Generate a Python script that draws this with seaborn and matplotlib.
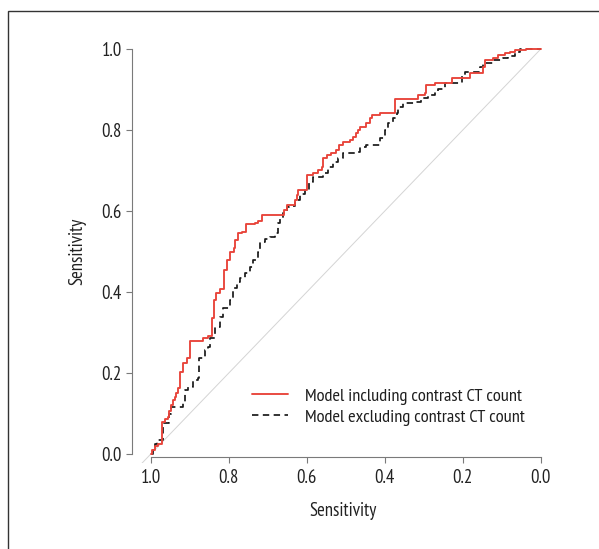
import pandas as pd
import seaborn as sns
import matplotlib.pyplot as plt
from matplotlib.patches import Rectangle

# ROC curve points (specificity on x, reversed axis; sensitivity on y)
spec_incl = [1.000, 0.996, 0.990, 0.981, 0.971, 0.964, 0.956, 0.954, 0.947, 0.943,
             0.938, 0.934, 0.930, 0.924, 0.917, 0.908, 0.900, 0.867, 0.853, 0.844,
             0.842, 0.838, 0.832, 0.823, 0.812, 0.804, 0.797, 0.787, 0.785, 0.776,
             0.765, 0.755, 0.733, 0.725, 0.716, 0.659, 0.652, 0.631, 0.626, 0.622,
             0.599, 0.584, 0.571, 0.562, 0.558, 0.549, 0.537, 0.524, 0.517, 0.507,
             0.490, 0.482, 0.474, 0.468, 0.464, 0.447, 0.438, 0.434, 0.413, 0.374,
             0.315, 0.297, 0.295, 0.272, 0.229, 0.182, 0.148, 0.144, 0.122, 0.109,
             0.092, 0.079, 0.067, 0.037, 0.000]
sens_incl = [0.000, 0.010, 0.020, 0.024, 0.080, 0.086, 0.091, 0.107, 0.121, 0.133,
             0.141, 0.150, 0.162, 0.203, 0.224, 0.236, 0.280, 0.286, 0.291, 0.314,
             0.335, 0.380, 0.397, 0.407, 0.454, 0.479, 0.500, 0.508, 0.528, 0.545,
             0.549, 0.568, 0.571, 0.576, 0.590, 0.602, 0.615, 0.627, 0.640, 0.652,
             0.689, 0.693, 0.701, 0.709, 0.730, 0.738, 0.744, 0.751, 0.763, 0.771,
             0.775, 0.783, 0.792, 0.800, 0.808, 0.817, 0.829, 0.837, 0.843, 0.877,
             0.886, 0.891, 0.911, 0.915, 0.928, 0.940, 0.956, 0.973, 0.977, 0.985,
             0.989, 0.993, 0.998, 1.000, 1.000]

spec_excl = [1.000, 0.995, 0.990, 0.985, 0.968, 0.953, 0.947, 0.917, 0.913, 0.904,
             0.892, 0.879, 0.876, 0.862, 0.853, 0.849, 0.836, 0.823, 0.815, 0.797,
             0.789, 0.780, 0.772, 0.759, 0.746, 0.738, 0.725, 0.721, 0.708, 0.695,
             0.682, 0.674, 0.669, 0.661, 0.652, 0.646, 0.631, 0.618, 0.605, 0.595,
             0.584, 0.558, 0.545, 0.533, 0.520, 0.507, 0.477, 0.464, 0.447, 0.413,
             0.400, 0.392, 0.379, 0.370, 0.366, 0.353, 0.323, 0.306, 0.289, 0.272,
             0.263, 0.246, 0.203, 0.195, 0.156, 0.148, 0.122, 0.097, 0.084, 0.067,
             0.054, 0.000]
sens_excl = [0.000, 0.017, 0.026, 0.035, 0.076, 0.100, 0.117, 0.125, 0.158, 0.166,
             0.183, 0.187, 0.236, 0.257, 0.265, 0.286, 0.314, 0.339, 0.360, 0.380,
             0.409, 0.425, 0.434, 0.446, 0.462, 0.479, 0.500, 0.524, 0.530, 0.537,
             0.545, 0.570, 0.582, 0.594, 0.611, 0.612, 0.627, 0.642, 0.652, 0.672,
             0.685, 0.693, 0.709, 0.722, 0.730, 0.742, 0.746, 0.759, 0.763, 0.780,
             0.800, 0.817, 0.829, 0.841, 0.856, 0.866, 0.870, 0.878, 0.886, 0.895,
             0.900, 0.915, 0.936, 0.944, 0.956, 0.965, 0.973, 0.977, 0.983, 0.993,
             1.000, 1.000]

chance_x = [1.03, 0.0]
chance_y = [-0.03, 1.0]

ticks = [1.0, 0.8, 0.6, 0.4, 0.2, 0.0]
tick_labels = ["1.0", "0.8", "0.6", "0.4", "0.2", "0.0"]

label_incl = "Model including contrast CT count"
label_excl = "Model excluding contrast CT count"

df_incl = pd.DataFrame({"spec": spec_incl, "sens": sens_incl})
df_excl = pd.DataFrame({"spec": spec_excl, "sens": sens_excl})

sns.set_style("ticks")
plt.rcParams["font.family"] = ["PT Sans Narrow", "Roboto Condensed", "DejaVu Sans"]
plt.rcParams["lines.scale_dashes"] = False

fig = plt.figure(figsize=(5.99, 5.49), dpi=100)
ax = fig.add_axes([132 / 599, 1 - 463 / 549, 428 / 599, 423 / 549])

ax.plot(chance_x, chance_y, color="#d4d4d4", lw=0.7, zorder=1)

sns.lineplot(data=df_excl, x="spec", y="sens", ax=ax, sort=False, estimator=None,
             drawstyle="steps-post", color="#1a1a1a", lw=1.25, label=label_excl, zorder=2)
ax.lines[-1].set_dashes((4.6, 3.2))
sns.lineplot(data=df_incl, x="spec", y="sens", ax=ax, sort=False, estimator=None,
             drawstyle="steps-post", color="#e8443a", lw=1.35, label=label_incl, zorder=3)

ax.set_xlim(1.048, -0.049)
ax.set_ylim(-0.022, 1.022)
ax.set_xticks(ticks)
ax.set_xticklabels(tick_labels)
ax.set_yticks(ticks)
ax.set_yticklabels(tick_labels)

for side in ["top", "right"]:
    ax.spines[side].set_visible(False)
ax.spines["bottom"].set_position(("data", -0.006))
ax.spines["bottom"].set_bounds(0, 1)
ax.spines["left"].set_bounds(0, 1)
for side in ["bottom", "left"]:
    ax.spines[side].set_color("#7a7a7a")
    ax.spines[side].set_linewidth(0.8)

ax.tick_params(axis="both", length=4.3, width=0.8, color="#7a7a7a",
               labelsize=13.5, labelcolor="#222222")
ax.tick_params(axis="x", pad=5)
ax.tick_params(axis="y", pad=3)

ax.set_xlabel("Sensitivity", fontsize=13.5, color="#222222", va="center")
ax.set_ylabel("Sensitivity", fontsize=13.5, color="#222222", va="center")
ax.xaxis.set_label_coords(0.493, -0.113)
ax.yaxis.set_label_coords(-0.128, 0.5)

handles, labels = ax.get_legend_handles_labels()
order = [labels.index(label_incl), labels.index(label_excl)]
ax.legend([handles[i] for i in order], [labels[i] for i in order],
          frameon=False, fontsize=13.2, loc="upper left",
          bbox_to_anchor=(252 / 599, 1 - 388 / 549), bbox_transform=fig.transFigure,
          borderpad=0, borderaxespad=0, handlelength=1.95, handletextpad=0.95,
          labelspacing=0.22, labelcolor="#1e1e1e")

fig.add_artist(Rectangle((8 / 599, -0.1), 2, 1.1 - 11 / 549, transform=fig.transFigure,
                         fill=False, edgecolor="#333333", lw=1.0))

fig.savefig("out.png", dpi=100)
